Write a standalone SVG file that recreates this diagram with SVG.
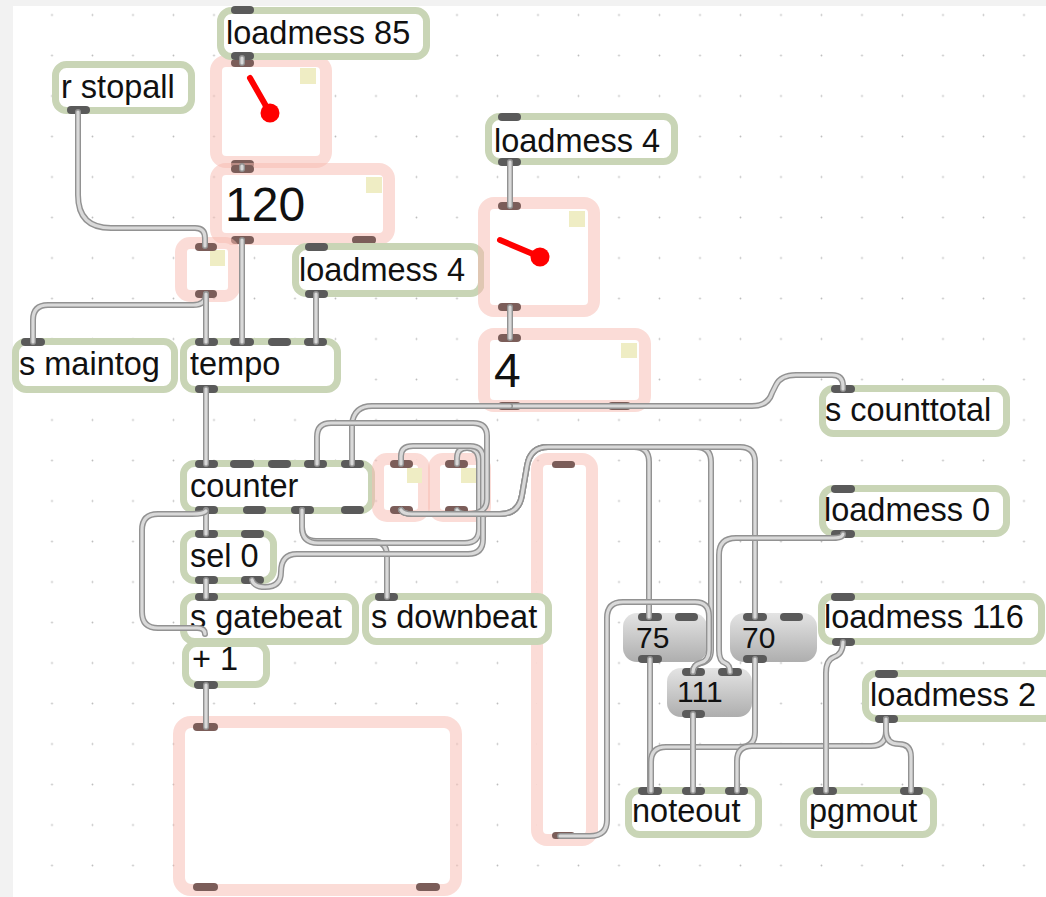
<svg xmlns="http://www.w3.org/2000/svg" xmlns:xlink="http://www.w3.org/1999/xlink" width="1046" height="897" viewBox="0 0 1046 897">
<style>
.b{fill:#fff;stroke:#c9d5b6;stroke-width:7}
.u{fill:#fff;stroke:#f8b9b0;stroke-opacity:.5;stroke-width:12}
.m{fill:url(#mg)}
.po{fill:#5a5a5a}
.pu{fill:#7b5d59}
.t{font-family:"Liberation Sans",Arial,Helvetica,sans-serif;font-size:32.5px;fill:#111}
.tb{font-size:48px}
.tm{font-size:30px}
.y{fill:#efedc4}
.co{fill:none;stroke:#929292;stroke-width:6;stroke-linecap:round;stroke-linejoin:round}
.ci{fill:none;stroke:#d9d9d9;stroke-width:3.2;stroke-linecap:round;stroke-linejoin:round}
.nd{stroke:#f00;stroke-width:6;stroke-linecap:round}
</style>
<defs>
<pattern id="grid" x="31.75" y="-5.25" width="40.5" height="40.5" patternUnits="userSpaceOnUse"><circle cx="20.25" cy="20.25" r="0.9" fill="#bdbdbd"/></pattern>
<linearGradient id="mg" x1="0" y1="0" x2="0" y2="1"><stop offset="0" stop-color="#e4e4e4"/><stop offset="1" stop-color="#aeaeae"/></linearGradient>
<path id="c1" d="M242,58 V63"/>
<path id="c2" d="M242,166 V169"/>
<path id="c3" d="M78,112 V195 Q78,228 111,228 H195 Q205,228 205,238 V246"/>
<path id="c4" d="M206,294 Q206,305 193,305 H48 Q33,305 33,320 V342"/>
<path id="c5" d="M206,294 V342"/>
<path id="c6" d="M242,240 V342"/>
<path id="c7" d="M316,294 V342"/>
<path id="c8" d="M510,162 V206"/>
<path id="c9" d="M510,307 V338"/>
<path id="c10" d="M206,389 V464"/>
<path id="c11" d="M510,406 H752 Q768,406 772,393 L776,385 Q781,375 796,375 H832 Q843,375 843,386 V389"/>
<path id="c12" d="M510,406 H372 Q354,406 352,424 V464"/>
<path id="c13" d="M206,510 V534"/>
<path id="c14" d="M206,511 Q204,514 192,514 H158 Q142,514 142,530 V612 Q142,628 158,628 H197 Q205,628 205,634"/>
<path id="c15" d="M206,580 V597"/>
<path id="c16" d="M302,510 V527 Q302,541 316,541 H372 Q387,541 387,556 V597"/>
<path id="c17" d="M302,510 V527 Q302,543 318,543 H465 Q479,543 479,529 V462 Q479,448 467,448 Q457,448 457,458 V464"/>
<path id="c18" d="M252,580 Q254,587 265,587 Q281,587 281,572 Q281,554 297,554 H468 Q483,554 483,539 V459 Q483,446 470,446 H413 Q401,446 401,456 V464"/>
<path id="c19" d="M457,510 Q459,514 468,514 Q487,514 487,499 V436 Q487,423 473,423 H331 Q317,423 317,437 V464"/>
<path id="c20" d="M401,510 Q403,514 412,514 H500 Q519,514 522,495 L527,466 Q530,447 548,447 H634 Q649,447 649,462 V617"/>
<path id="c21" d="M401,510 Q403,514 412,514 H500 Q519,514 522,495 L527,466 Q530,447 548,447 H696 Q711,447 711,462 V650 Q711,661 701,663 Q693,665 693,672"/>
<path id="c22" d="M401,510 Q403,514 412,514 H500 Q519,514 522,495 L527,466 Q530,447 548,447 H740 Q755,447 755,462 V617"/>
<path id="c23" d="M843,534 Q843,538 833,538 H736 Q719,538 719,555 V650 Q719,661 725,663 Q730,665 730,672"/>
<path id="c24" d="M560,836 H590 Q607,836 607,820 V618 Q607,602 623,602 H695 Q709,602 709,616 V650 Q709,661 700,663 Q693,665 693,672"/>
<path id="c25" d="M650,659 V791"/>
<path id="c26" d="M755,659 V732 Q755,747 740,747 H666 Q651,747 651,762 V791"/>
<path id="c27" d="M693,714 V791"/>
<path id="c28" d="M886,719 V731 Q886,746 871,746 H752 Q737,746 737,761 V791"/>
<path id="c29" d="M886,719 V731 Q886,744 899,744 Q911,744 911,757 V791"/>
<path id="c30" d="M843,642 Q843,654 834,657 Q826,660 826,673 V791"/>
<path id="c31" d="M206,685 V727"/>
</defs>

<rect width="1046" height="897" fill="#f2f2f2"/>
<rect x="13" y="6" width="1033" height="891" fill="#fff"/>
<rect x="13" y="6" width="1033" height="891" fill="url(#grid)"/>

<g id="dial1"><rect class="u" x="216" y="61" width="110" height="101" rx="10"/><rect class="y" x="300" y="68" width="16" height="16"/><line class="nd" x1="250" y1="78" x2="270" y2="113"/><circle cx="270" cy="113" r="9.5" fill="#f00"/><rect class="pu" x="231" y="59" width="23" height="8" rx="4"/><rect class="pu" x="231" y="160" width="23" height="8" rx="4"/></g>
<g id="lm85"><rect class="b" x="220.5" y="10.5" width="206" height="46" rx="11"/><text class="t" x="226" y="44">loadmess 85</text><rect class="po" x="231" y="6" width="23" height="8" rx="4"/><rect class="po" x="231" y="52" width="23" height="8" rx="4"/></g>
<g id="num120"><rect class="u" x="216" y="169" width="173" height="70" rx="10"/><rect class="y" x="366" y="177" width="16" height="16"/><text class="t tb" x="225" y="221">120</text><rect class="pu" x="231" y="165" width="23" height="8" rx="4"/><rect class="pu" x="231" y="236" width="23" height="8" rx="4"/><rect class="pu" x="352" y="236" width="24" height="8" rx="4"/></g>
<g id="rstopall"><rect class="b" x="55.5" y="64.5" width="136" height="46" rx="11"/><text class="t" x="61" y="98">r stopall</text><rect class="po" x="67" y="106" width="23" height="8" rx="4"/></g>
<g id="toggleA"><rect class="u" x="181" y="243" width="53" height="53" rx="9"/><rect class="y" x="210" y="250" width="15" height="16"/><rect class="pu" x="195" y="243" width="22" height="8" rx="4"/><rect class="pu" x="195" y="290" width="22" height="8" rx="4"/></g>
<g id="lm4a"><rect class="b" x="295.5" y="246.5" width="186" height="47" rx="11"/><text class="t" x="299" y="281">loadmess 4</text><rect class="po" x="305" y="243" width="23" height="8" rx="4"/><rect class="po" x="305" y="290" width="23" height="8" rx="4"/></g>
<g id="lm4b"><rect class="b" x="488.5" y="116.5" width="186" height="45" rx="11"/><text class="t" x="494" y="152">loadmess 4</text><rect class="po" x="498" y="113" width="23" height="8" rx="4"/><rect class="po" x="498" y="158" width="23" height="8" rx="4"/></g>
<g id="dial2"><rect class="u" x="484" y="203" width="110" height="108" rx="10"/><rect class="y" x="569" y="211" width="16" height="16"/><line class="nd" x1="500" y1="240" x2="540" y2="257"/><circle cx="540" cy="257" r="9.5" fill="#f00"/><rect class="pu" x="498" y="202" width="23" height="8" rx="4"/><rect class="pu" x="498" y="303" width="23" height="8" rx="4"/></g>
<g id="num4"><rect class="u" x="484" y="334" width="161" height="72" rx="10"/><rect class="y" x="621" y="343" width="16" height="15"/><text class="t tb" x="494" y="387">4</text><rect class="pu" x="498" y="334" width="23" height="8" rx="4"/><rect class="pu" x="498" y="402" width="23" height="8" rx="4"/><rect class="pu" x="608" y="402" width="23" height="8" rx="4"/></g>
<g id="smaintog"><rect class="b" x="15.5" y="341.5" width="159" height="48" rx="11"/><text class="t" x="19" y="375">s maintog</text><rect class="po" x="21" y="338" width="24" height="8" rx="4"/></g>
<g id="tempo"><rect class="b" x="183.5" y="341.5" width="154" height="48" rx="11"/><text class="t" x="190" y="375">tempo</text><rect class="po" x="195" y="338" width="23" height="8" rx="4"/><rect class="po" x="230" y="338" width="24" height="8" rx="4"/><rect class="po" x="268" y="338" width="23" height="8" rx="4"/><rect class="po" x="304" y="338" width="23" height="8" rx="4"/><rect class="po" x="195" y="385" width="23" height="8" rx="4"/></g>
<g id="counter"><rect class="b" x="183.5" y="463.5" width="188" height="47" rx="11"/><text class="t" x="190" y="497">counter</text><rect class="po" x="195" y="460" width="23" height="8" rx="4"/><rect class="po" x="230" y="460" width="24" height="8" rx="4"/><rect class="po" x="268" y="460" width="23" height="8" rx="4"/><rect class="po" x="304" y="460" width="23" height="8" rx="4"/><rect class="po" x="341" y="460" width="23" height="8" rx="4"/><rect class="po" x="195" y="506" width="23" height="8" rx="4"/><rect class="po" x="243" y="506" width="23" height="8" rx="4"/><rect class="po" x="291" y="506" width="23" height="8" rx="4"/><rect class="po" x="341" y="506" width="23" height="8" rx="4"/></g>
<g id="toggleB1"><rect class="u" x="378" y="459" width="46" height="57" rx="9"/><rect class="y" x="407" y="468" width="15" height="15"/><rect class="pu" x="390" y="460" width="23" height="8" rx="4"/><rect class="pu" x="390" y="506" width="23" height="8" rx="4"/></g>
<g id="toggleB2"><rect class="u" x="434" y="459" width="51" height="57" rx="9"/><rect class="y" x="461" y="468" width="15" height="15"/><rect class="pu" x="445" y="460" width="23" height="8" rx="4"/><rect class="pu" x="445" y="506" width="23" height="8" rx="4"/></g>
<g id="slider"><rect class="u" x="537" y="459" width="55" height="381" rx="10"/><rect class="pu" x="552" y="461" width="23" height="7" rx="3.5"/><rect class="pu" x="552" y="832" width="23" height="7" rx="3.5"/></g>
<g id="sel0"><rect class="b" x="183.5" y="533.5" width="90" height="47" rx="11"/><text class="t" x="190" y="567">sel 0</text><rect class="po" x="195" y="530" width="23" height="8" rx="4"/><rect class="po" x="241" y="530" width="23" height="8" rx="4"/><rect class="po" x="195" y="576" width="23" height="8" rx="4"/><rect class="po" x="241" y="576" width="23" height="8" rx="4"/></g>
<g id="plus1"><rect class="b" x="185.5" y="643.5" width="81" height="41" rx="11"/><text class="t" x="192" y="670">+ 1</text><rect class="po" x="194" y="681" width="24" height="8" rx="4"/></g>
<g id="sgatebeat"><rect class="b" x="183.5" y="596.5" width="172" height="45" rx="11"/><text class="t" x="190" y="628">s gatebeat</text><rect class="po" x="195" y="593" width="23" height="8" rx="4"/></g>
<g id="sdownbeat"><rect class="b" x="365.5" y="596.5" width="183" height="45" rx="11"/><text class="t" x="371" y="628">s downbeat</text><rect class="po" x="375" y="593" width="23" height="8" rx="4"/></g>
<g id="bigrect"><rect class="u" x="179" y="722" width="277" height="168" rx="12"/><rect class="pu" x="193" y="723" width="25" height="8" rx="4"/><rect class="pu" x="193" y="883" width="25" height="8" rx="4"/><rect class="pu" x="416" y="883" width="24" height="8" rx="4"/></g>
<g id="scounttotal"><rect class="b" x="822.5" y="388.5" width="184" height="45" rx="11"/><text class="t" x="825" y="421">s counttotal</text><rect class="po" x="831" y="385" width="24" height="8" rx="4"/></g>
<g id="lm0"><rect class="b" x="822.5" y="488.5" width="184" height="45" rx="11"/><text class="t" x="824" y="521">loadmess 0</text><rect class="po" x="831" y="485" width="24" height="8" rx="4"/><rect class="po" x="831" y="530" width="24" height="8" rx="4"/></g>
<g id="lm116"><rect class="b" x="821.5" y="596.5" width="220" height="45" rx="11"/><text class="t" x="824" y="628">loadmess 116</text><rect class="po" x="831" y="593" width="24" height="8" rx="4"/><rect class="po" x="832" y="638" width="23" height="8" rx="4"/></g>
<g id="lm2"><rect class="b" x="865.5" y="673.5" width="190" height="45" rx="11"/><text class="t" x="870" y="706">loadmess 2</text><rect class="po" x="875" y="670" width="23" height="8" rx="4"/><rect class="po" x="875" y="715" width="23" height="8" rx="4"/></g>
<g id="msg75"><rect class="m" x="623" y="613" width="84" height="49" rx="14"/><text class="t tm" x="636" y="648">75</text><rect class="po" x="638" y="613" width="24" height="8" rx="4"/><rect class="po" x="675" y="613" width="23" height="8" rx="4"/><rect class="po" x="638" y="655" width="24" height="8" rx="4"/></g>
<g id="msg70"><rect class="m" x="730" y="613" width="87" height="49" rx="14"/><text class="t tm" x="742" y="648">70</text><rect class="po" x="743" y="613" width="24" height="8" rx="4"/><rect class="po" x="780" y="613" width="23" height="8" rx="4"/><rect class="po" x="743" y="655" width="24" height="8" rx="4"/></g>
<g id="msg111"><rect class="m" x="667" y="668" width="85" height="49" rx="14"/><text class="t tm" x="677" y="702">111</text><rect class="po" x="682" y="668" width="23" height="8" rx="4"/><rect class="po" x="718" y="668" width="24" height="8" rx="4"/><rect class="po" x="682" y="710" width="23" height="8" rx="4"/></g>
<g id="noteout"><rect class="b" x="628.5" y="790.5" width="130" height="44" rx="11"/><text class="t" x="632" y="822">noteout</text><rect class="po" x="638" y="787" width="24" height="8" rx="4"/><rect class="po" x="682" y="787" width="23" height="8" rx="4"/><rect class="po" x="725" y="787" width="23" height="8" rx="4"/></g>
<g id="pgmout"><rect class="b" x="803.5" y="790.5" width="130" height="44" rx="11"/><text class="t" x="809" y="822">pgmout</text><rect class="po" x="813" y="787" width="24" height="8" rx="4"/><rect class="po" x="900" y="787" width="23" height="8" rx="4"/></g>

<g id="connectors">
<use href="#c1" class="co"/><use href="#c1" class="ci"/>
<use href="#c2" class="co"/><use href="#c2" class="ci"/>
<use href="#c3" class="co"/><use href="#c3" class="ci"/>
<use href="#c4" class="co"/><use href="#c4" class="ci"/>
<use href="#c5" class="co"/><use href="#c5" class="ci"/>
<use href="#c6" class="co"/><use href="#c6" class="ci"/>
<use href="#c7" class="co"/><use href="#c7" class="ci"/>
<use href="#c8" class="co"/><use href="#c8" class="ci"/>
<use href="#c9" class="co"/><use href="#c9" class="ci"/>
<use href="#c10" class="co"/><use href="#c10" class="ci"/>
<use href="#c11" class="co"/><use href="#c11" class="ci"/>
<use href="#c12" class="co"/><use href="#c12" class="ci"/>
<use href="#c13" class="co"/><use href="#c13" class="ci"/>
<use href="#c14" class="co"/><use href="#c14" class="ci"/>
<use href="#c15" class="co"/><use href="#c15" class="ci"/>
<use href="#c16" class="co"/><use href="#c16" class="ci"/>
<use href="#c17" class="co"/><use href="#c17" class="ci"/>
<use href="#c18" class="co"/><use href="#c18" class="ci"/>
<use href="#c19" class="co"/><use href="#c19" class="ci"/>
<use href="#c20" class="co"/><use href="#c20" class="ci"/>
<use href="#c21" class="co"/><use href="#c21" class="ci"/>
<use href="#c22" class="co"/><use href="#c22" class="ci"/>
<use href="#c23" class="co"/><use href="#c23" class="ci"/>
<use href="#c24" class="co"/><use href="#c24" class="ci"/>
<use href="#c25" class="co"/><use href="#c25" class="ci"/>
<use href="#c26" class="co"/><use href="#c26" class="ci"/>
<use href="#c27" class="co"/><use href="#c27" class="ci"/>
<use href="#c28" class="co"/><use href="#c28" class="ci"/>
<use href="#c29" class="co"/><use href="#c29" class="ci"/>
<use href="#c30" class="co"/><use href="#c30" class="ci"/>
<use href="#c31" class="co"/><use href="#c31" class="ci"/>
</g>
</svg>
